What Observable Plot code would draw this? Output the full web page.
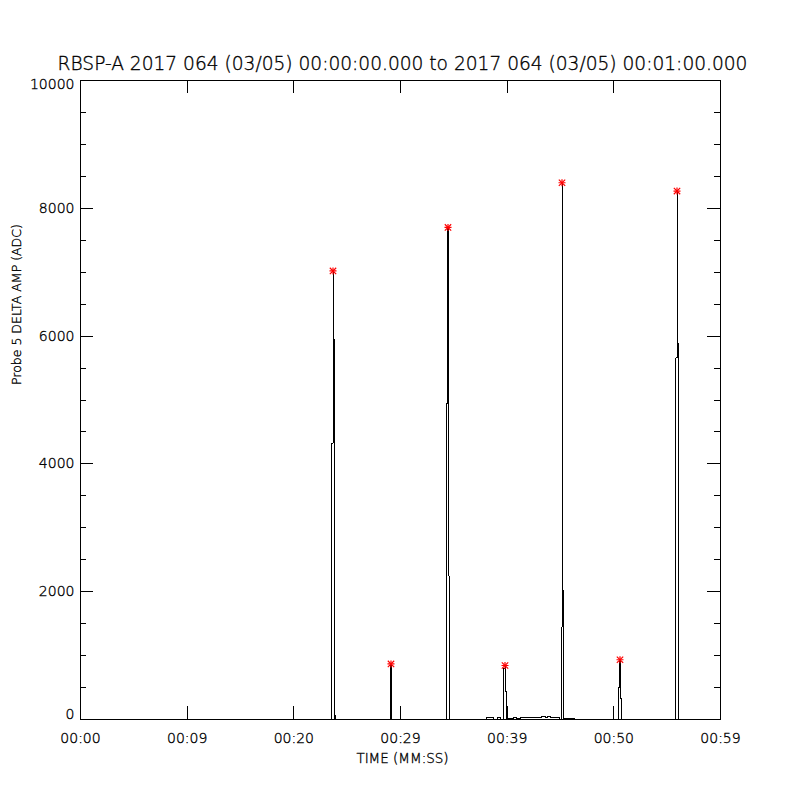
<!DOCTYPE html>
<html>
<head>
<meta charset="utf-8">
<script src="https://cdn.jsdelivr.net/npm/d3@7"></script>
<script src="https://cdn.jsdelivr.net/npm/@observablehq/plot@0.6"></script>
<style>
  html, body { margin: 0; padding: 0; background: #fff; }
  #chart svg { display: block; }
</style>
</head>
<body>
<div id="chart"></div>
<script>
// ---- data ----
const titleText = "RBSP-A 2017 064 (03/05) 00:00:00.000 to 2017 064 (03/05) 00:01:00.000";
const xLabel = "TIME (MM:SS)";
const yLabel = "Probe 5 DELTA AMP (ADC)";

// x tick positions (seconds) and their labels as printed
const xTickSec = [0, 10, 20, 30, 40, 50, 60];
const xTickLabels = ["00:00", "00:09", "00:20", "00:29", "00:39", "00:50", "00:59"];

const yMajor = [0, 2000, 4000, 6000, 8000, 10000];
const yMinor = [500, 1000, 1500, 2500, 3000, 3500, 4500, 5000, 5500, 6500, 7000, 7500, 8500, 9000, 9500];

// trace samples: time (s) and amplitude (ADC)
const time = [
  0.000,
  23.578, 23.672, 23.673, 23.766, 23.859, 23.953,
  29.016, 29.109, 29.110, 29.203,
  34.266, 34.359, 34.453, 34.454, 34.547,
  38.060, 38.720, 39.090, 39.380,
  39.703, 39.797, 39.798, 39.891,
  40.000, 40.590, 40.880, 41.250, 43.220, 43.590, 43.780, 44.060, 44.910,
  45.047, 45.141, 45.142, 45.234, 45.235, 45.300, 46.310,
  50.391, 50.484, 50.578, 50.579, 50.672,
  55.828, 55.922, 55.923, 56.016, 59.990
];
const amp = [
  0,
  4320, 7020, 5950, 0, 60, 0,
  800, 870, 440, 0,
  1100, 4950, 7700, 2250, 0,
  30, 0, 30, 0,
  800, 845, 440, 0,
  20, 30, 15, 30, 45, 25, 40, 30, 0,
  1440, 8400, 6260, 2030, 0, 15, 0,
  40, 505, 935, 330, 0,
  5660, 8270, 5890, 0, 0
];

// peak markers
const peakTime = [23.672, 29.109, 34.453, 39.797, 45.141, 50.578, 55.922];
const peakAmp = [7020, 870, 7700, 845, 8400, 935, 8270];

// ---- build ----
const trace = time.map((t, i) => ({t, v: amp[i]}));
const peaks = peakTime.map((t, i) => ({t, v: peakAmp[i]}));
const font = "DejaVu Sans";
const txt = {fontWeight: 200, fill: "#000", stroke: "#000", strokeWidth: 0.35};

const chart = Plot.plot({
  width: 800,
  height: 800,
  marginLeft: 80,
  marginRight: 80,
  marginTop: 80,
  marginBottom: 81,
  style: {background: "#fff", fontFamily: font, color: "#000"},
  x: {domain: [0, 60], axis: null},
  y: {domain: [0, 10000], axis: null},
  marks: [
    // trace
    Plot.line(trace, {x: "t", y: "v", curve: "step-after", stroke: "#000", strokeWidth: 1, shapeRendering: "crispEdges"}),
    // y ticks, left (inward) and right (inward)
    Plot.tickY(yMajor, {y: d => d, insetRight: 627, stroke: "#000", shapeRendering: "crispEdges"}),
    Plot.tickY(yMinor, {y: d => d, insetRight: 634, stroke: "#000", shapeRendering: "crispEdges"}),
    Plot.tickY(yMajor, {y: d => d, insetLeft: 627, stroke: "#000", shapeRendering: "crispEdges"}),
    Plot.tickY(yMinor, {y: d => d, insetLeft: 634, stroke: "#000", shapeRendering: "crispEdges"}),
    // x ticks, bottom and top (inward)
    Plot.tickX(xTickSec, {x: d => d, insetTop: 626, stroke: "#000", shapeRendering: "crispEdges"}),
    Plot.tickX(xTickSec, {x: d => d, insetBottom: 626, stroke: "#000", shapeRendering: "crispEdges"}),
    Plot.frame({stroke: "#000", strokeWidth: 1, shapeRendering: "crispEdges"}),
    // peak asterisks
    Plot.dot(peaks, {x: "t", y: "v", symbol: "plus", r: 2.4, stroke: "red", strokeWidth: 1.2}),
    Plot.dot(peaks, {x: "t", y: "v", symbol: "times", r: 3.0, stroke: "red", strokeWidth: 1.2}),
    // y tick labels
    Plot.text(yMajor.filter(d => d !== 0 && d !== 10000), {y: d => d, text: d => String(d), frameAnchor: "left", dx: -6, textAnchor: "end", fontSize: 14, ...txt}),
    Plot.text([10000], {y: d => d, text: d => String(d), frameAnchor: "left", dx: -6, dy: 4, textAnchor: "end", fontSize: 14, ...txt}),
    Plot.text([0], {y: d => d, text: d => String(d), frameAnchor: "left", dx: -6, dy: -5, textAnchor: "end", fontSize: 14, ...txt}),
    // x tick labels
    Plot.text(xTickSec, {x: d => d, text: (d, i) => xTickLabels[i], frameAnchor: "bottom", dy: 19, lineAnchor: "middle", fontSize: 14, ...txt}),
    // axis titles
    Plot.text([xLabel], {text: d => d, frameAnchor: "bottom", dx: 2, dy: 39, lineAnchor: "middle", fontSize: 13.5, ...txt}),
    Plot.text([yLabel], {text: d => d, frameAnchor: "left", dx: -64, dy: -15, rotate: -90, fontSize: 12.5, ...txt}),
    // title
    Plot.text([titleText], {text: d => d, frameAnchor: "top", dx: 2, dy: -16, lineAnchor: "middle", fontSize: 18.6, ...txt})
  ]
});
document.getElementById("chart").appendChild(chart);
</script>
</body>
</html>
